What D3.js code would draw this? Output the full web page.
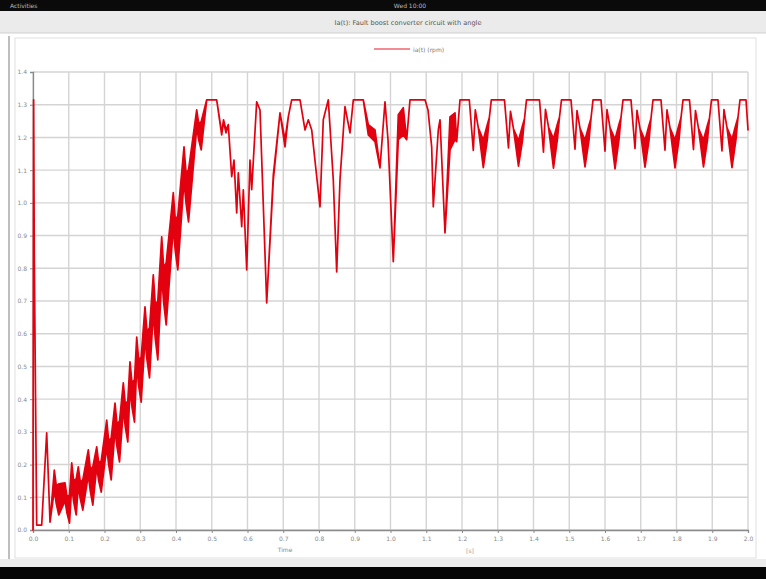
<!DOCTYPE html>
<html><head><meta charset="utf-8">
<script src="https://cdn.jsdelivr.net/npm/d3@7"></script>
<style>
html,body{margin:0;padding:0;background:#fff;}
svg{display:block;font-family:"DejaVu Sans",sans-serif;}
</style></head>
<body>
<svg id="c" width="766" height="579"></svg>
<script>
// ---------- data ----------
const chartTitle = "Ia(t): Fault boost converter circuit with angle";
const seriesName = "ia(t) (rpm)";
const xAxisTitle = "Time";
const xUnit = "[s]";
const xTicks = [0.0,0.1,0.2,0.3,0.4,0.5,0.6,0.7,0.8,0.9,1.0,1.1,1.2,1.3,1.4,1.5,1.6,1.7,1.8,1.9,2.0];
const yTicks = [0.0,0.1,0.2,0.3,0.4,0.5,0.6,0.7,0.8,0.9,1.0,1.1,1.2,1.3,1.4];

// [time, band low, band high]
const startSamples = [
 [0.0000,0.000,0.000],[0.0017,1.315,1.315],[0.0036,0.835,0.835],[0.0103,0.015,0.015],
 [0.0243,0.015,0.015],[0.0383,0.297,0.297],[0.0476,0.024,0.024]
];
const riseSamples = [
 [0.0596,0.122,0.183],[0.0652,0.080,0.135],[0.0722,0.046,0.141],
 [0.0895,0.089,0.144],[0.0951,0.052,0.101],[0.1021,0.021,0.107],
 [0.1083,0.135,0.205],[0.1138,0.086,0.150],[0.1208,0.046,0.156],
 [0.1267,0.135,0.193],[0.1323,0.095,0.147],[0.1393,0.061,0.153],
 [0.1547,0.168,0.245],[0.1603,0.119,0.187],[0.1673,0.076,0.193],
 [0.1782,0.193,0.254],[0.1838,0.150,0.205],[0.1908,0.116,0.211],
 [0.2062,0.254,0.336],[0.2117,0.199,0.272],[0.2187,0.153,0.281],
 [0.2294,0.306,0.388],[0.2350,0.254,0.324],[0.2420,0.208,0.333],
 [0.2526,0.367,0.450],[0.2582,0.315,0.385],[0.2652,0.269,0.394],
 [0.2713,0.431,0.514],[0.2769,0.376,0.450],[0.2839,0.330,0.459],
 [0.2901,0.502,0.590],[0.2957,0.440,0.520],[0.3026,0.391,0.529],
 [0.3133,0.584,0.682],[0.3189,0.520,0.606],[0.3259,0.465,0.618],
 [0.3365,0.664,0.780],[0.3421,0.584,0.688],[0.3491,0.520,0.700],
 [0.3600,0.774,0.896],[0.3656,0.694,0.801],[0.3726,0.627,0.817],
 [0.3924,0.924,1.031],[0.3980,0.853,0.948],[0.4050,0.795,0.960],
 [0.4224,1.067,1.171],[0.4280,1.000,1.092],[0.4350,0.942,1.101],
 [0.4579,1.229,1.284],[0.4635,1.193,1.242],[0.4705,1.162,1.248]
];
const transientSamples = [
 [0.4859,1.315,1.315],[0.5138,1.315,1.315],[0.5278,1.208,1.214],[0.5329,1.248,1.254],
 [0.5399,1.214,1.223],[0.5463,1.239,1.239],[0.5558,1.080,1.080],[0.5622,1.131,1.131],
 [0.5698,0.969,0.969],[0.5743,1.092,1.092],[0.5838,0.927,0.927],[0.5883,1.040,1.040],
 [0.5978,0.795,0.795],[0.6070,1.131,1.131],[0.6117,1.040,1.040],[0.6257,1.309,1.309],
 [0.6350,1.284,1.284],[0.6537,0.694,0.694],[0.6722,1.070,1.086],[0.6909,1.275,1.275],
 [0.7049,1.171,1.193],[0.7141,1.263,1.263],[0.7236,1.315,1.315],[0.7469,1.315,1.315],
 [0.7608,1.223,1.223],[0.7701,1.254,1.254],[0.7796,1.223,1.223],[0.7936,1.080,1.080],
 [0.8028,0.988,0.988],[0.8120,1.254,1.254],[0.8260,1.315,1.315],[0.8400,1.070,1.070],
 [0.8495,0.789,0.789],[0.8587,1.070,1.070],[0.8727,1.294,1.294],[0.8867,1.214,1.214],
 [0.8960,1.315,1.315],[0.9239,1.315,1.315],[0.9379,1.208,1.239],[0.9566,1.187,1.223],
 [0.9706,1.107,1.107],[0.9846,1.309,1.309],[0.9930,1.193,1.193],[1.0078,0.820,0.820],
 [1.0218,1.193,1.269],[1.0358,1.208,1.291],[1.0453,1.193,1.193],[1.0545,1.315,1.315],
 [1.0965,1.315,1.315],[1.1049,1.284,1.284],[1.1152,1.171,1.171],[1.1197,0.988,0.988],
 [1.1337,1.223,1.223],[1.1385,1.254,1.254],[1.1524,0.908,0.908],[1.1664,1.162,1.263],
 [1.1804,1.193,1.275],[1.1852,1.187,1.187],[1.1944,1.315,1.315]
];
const steadySamples = [
 [1.2204,1.315,1.315],[1.2316,1.160,1.160],[1.2372,1.284,1.284],[1.2456,1.229,1.229],
 [1.2596,1.108,1.193],[1.2708,1.193,1.239],[1.2764,1.260,1.260],[1.2820,1.315,1.315],
 [1.3188,1.315,1.315],[1.3300,1.168,1.168],[1.3356,1.280,1.280],[1.3440,1.226,1.226],
 [1.3580,1.112,1.190],[1.3692,1.190,1.236],[1.3748,1.257,1.257],[1.3804,1.315,1.315],
 [1.4167,1.315,1.315],[1.4279,1.155,1.155],[1.4335,1.286,1.286],[1.4419,1.232,1.232],
 [1.4559,1.106,1.196],[1.4671,1.196,1.242],[1.4727,1.262,1.262],[1.4783,1.315,1.315],
 [1.5049,1.315,1.315],[1.5161,1.164,1.164],[1.5217,1.282,1.282],[1.5301,1.228,1.228],
 [1.5441,1.110,1.192],[1.5553,1.192,1.238],[1.5609,1.259,1.259],[1.5665,1.315,1.315],
 [1.5888,1.315,1.315],[1.6000,1.158,1.158],[1.6056,1.285,1.285],[1.6140,1.230,1.230],
 [1.6280,1.104,1.194],[1.6392,1.194,1.240],[1.6448,1.261,1.261],[1.6504,1.315,1.315],
 [1.6727,1.315,1.315],[1.6839,1.166,1.166],[1.6895,1.283,1.283],[1.6979,1.227,1.227],
 [1.7119,1.109,1.191],[1.7231,1.191,1.237],[1.7287,1.258,1.258],[1.7343,1.315,1.315],
 [1.7566,1.315,1.315],[1.7678,1.161,1.161],[1.7734,1.284,1.284],[1.7818,1.229,1.229],
 [1.7958,1.107,1.193],[1.8070,1.193,1.239],[1.8126,1.260,1.260],[1.8182,1.315,1.315],
 [1.8363,1.315,1.315],[1.8475,1.163,1.163],[1.8531,1.282,1.282],[1.8615,1.228,1.228],
 [1.8755,1.110,1.192],[1.8867,1.192,1.238],[1.8923,1.259,1.259],[1.8979,1.315,1.315],
 [1.9160,1.315,1.315],[1.9272,1.159,1.159],[1.9328,1.285,1.285],[1.9412,1.230,1.230],
 [1.9552,1.108,1.194],[1.9664,1.194,1.240],[1.9720,1.261,1.261],[1.9776,1.315,1.315],
 [1.9944,1.315,1.315],[2.0000,1.223,1.223]
];

// ---------- drawing ----------
const svg = d3.select("#c");
const W = 766, H = 579;
const red = "#e3000f";

// window chrome
svg.append("rect").attr("x",0).attr("y",0).attr("width",W).attr("height",11).attr("fill","#0a0a0a");
svg.append("text").attr("x",10).attr("y",8).attr("font-size",6).attr("fill","#bbb").text("Activities");
svg.append("text").attr("x",410).attr("y",8).attr("font-size",6).attr("fill","#bbb").attr("text-anchor","middle").text("Wed 10:00");
svg.append("rect").attr("x",0).attr("y",11).attr("width",W).attr("height",22).attr("fill","#ebebeb");
svg.append("line").attr("x1",0).attr("x2",W).attr("y1",33).attr("y2",33).attr("stroke","#cfcfcf");
svg.append("text").attr("x",408).attr("y",24.5).attr("font-size",6.6).attr("fill","#555").attr("text-anchor","middle").text(chartTitle);

// panel frame
svg.append("rect").attr("x",15).attr("y",38).attr("width",741).attr("height",520).attr("fill","none").attr("stroke","#e0e0e0");
svg.append("line").attr("x1",9).attr("x2",9).attr("y1",36).attr("y2",566).attr("stroke","#a8a8a8").attr("stroke-width",1.5);
svg.append("rect").attr("x",0).attr("y",559).attr("width",W).attr("height",8).attr("fill","#ececec");
svg.append("rect").attr("x",0).attr("y",567).attr("width",W).attr("height",12).attr("fill","#050505");

// legend
svg.append("line").attr("x1",374).attr("x2",410).attr("y1",49).attr("y2",49).attr("stroke",red).attr("stroke-width",1.5).attr("opacity",0.6);
svg.append("text").attr("x",413).attr("y",51.5).attr("font-size",6).attr("fill","#777").text(seriesName);

const x = d3.scaleLinear().domain([0,2]).range([33,748]);
const y = d3.scaleLinear().domain([0,1.4]).range([530,72]);

const grid = svg.append("g");
grid.selectAll("line.v").data(xTicks).join("line")
  .attr("x1",d=>x(d)).attr("x2",d=>x(d)).attr("y1",y(1.4)).attr("y2",y(0))
  .attr("stroke","#d4d4d4").attr("stroke-width",1.4);
grid.selectAll("line.h").data(yTicks).join("line")
  .attr("x1",x(0)).attr("x2",x(2)).attr("y1",d=>y(d)).attr("y2",d=>y(d))
  .attr("stroke","#d4d4d4").attr("stroke-width",1.4);

const xAxis = svg.append("g").attr("transform",`translate(0,${y(0)})`)
  .call(d3.axisBottom(x).tickValues(xTicks).tickFormat(d3.format(".1f")).tickSize(3));
const yAxis = svg.append("g").attr("transform",`translate(${x(0)},0)`)
  .call(d3.axisLeft(y).tickValues(yTicks).tickFormat(d3.format(".1f")).tickSize(3));
[xAxis,yAxis].forEach(g=>{
  g.select(".domain").attr("stroke","#8a8a8a").attr("stroke-width",1.3);
  g.selectAll(".tick line").attr("stroke","#8a8a8a");
  g.selectAll(".tick text").attr("font-size",6).attr("fill","#888").attr("font-family","DejaVu Sans");
});
xAxis.selectAll(".tick text").attr("dy","0.9em");

svg.append("text").attr("x",285).attr("y",552).attr("font-size",6).attr("fill","#888").attr("text-anchor","middle").text(xAxisTitle);
svg.append("text").attr("x",470).attr("y",553).attr("font-size",6).attr("fill","#999").attr("text-anchor","middle").text(xUnit);

// signal band
const samples = [].concat(startSamples, riseSamples, transientSamples, steadySamples);
svg.append("clipPath").attr("id","clip").append("rect")
  .attr("x",x(0)-1).attr("y",y(1.4)-2).attr("width",x(2)-x(0)+2).attr("height",y(0)-y(1.4)+4);
const area = d3.area().x(d=>x(d[0])).y0(d=>y(d[1])).y1(d=>y(d[2]));
svg.append("path").datum(samples).attr("clip-path","url(#clip)")
  .attr("d",area).attr("fill",red).attr("stroke",red).attr("stroke-width",1.7)
  .attr("stroke-linejoin","round");
</script>
</body></html>
